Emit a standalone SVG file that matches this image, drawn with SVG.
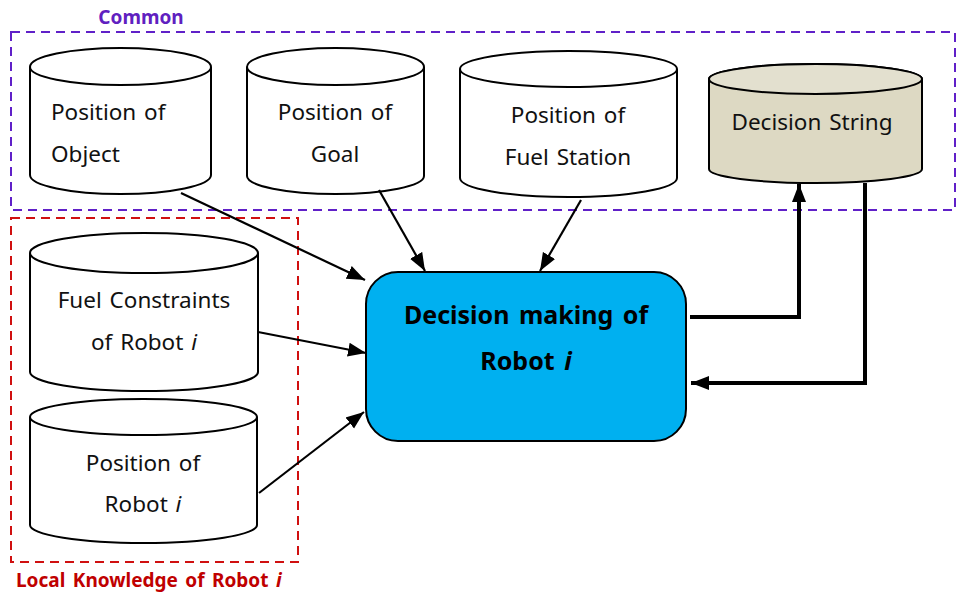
<svg xmlns="http://www.w3.org/2000/svg" width="956" height="594" viewBox="0 0 956 594">
<style>
.cyl{fill:#fff;stroke:#000;stroke-width:2}
.ds{fill:#DDD9C3;stroke:#000;stroke-width:2}
.dstop{fill:#E3E0CF;stroke:#000;stroke-width:2}
.t{font-family:"Noto Sans","Open Sans",sans-serif;font-size:22.5px;word-spacing:2px;fill:#111}
.c{text-anchor:middle}
.b{font-family:"Noto Sans","Open Sans",sans-serif;font-size:25px;word-spacing:3px;font-weight:bold;fill:#000;text-anchor:middle}
.lbl{font-family:"Noto Sans","Open Sans",sans-serif;font-size:19px;font-weight:bold}
.conn{stroke:#000;stroke-width:2.2;fill:none}
.thick{stroke:#000;stroke-width:4;fill:none}
</style>
<defs>
<marker id="ah" markerUnits="userSpaceOnUse" markerWidth="20" markerHeight="16" refX="18" refY="8" orient="auto">
<path d="M0,1 L18,8 L0,15 Z" fill="#000"/>
</marker>
</defs>
<g id="common-group">
<rect x="11" y="32" width="944" height="178" fill="none" stroke="#6020C8" stroke-width="2" stroke-dasharray="9,6"/>
<text class="lbl" x="141" y="24" fill="#6020C0" text-anchor="middle">Common</text>
</g>
<g id="local-group">
<rect x="11" y="218" width="287" height="344" fill="none" stroke="#D01010" stroke-width="2" stroke-dasharray="9,6"/>
<text class="lbl" x="16" y="587" fill="#C00000" word-spacing="2.5">Local Knowledge of Robot <tspan font-style="italic">i</tspan></text>
</g>
<g id="pos-object">
<path class="cyl" d="M30,67 A90.5,19 0 0 1 211,67 L211,175 A90.5,19 0 0 1 30,175 Z"/>
<path class="cyl" d="M30,67 A90.5,18 0 0 0 211,67"/>
<text class="t" x="51" y="120">Position of</text>
<text class="t" x="51" y="162">Object</text>
</g>
<g id="pos-goal">
<path class="cyl" d="M247,67 A88.5,19 0 0 1 424,67 L424,176 A88.5,18 0 0 1 247,176 Z"/>
<path class="cyl" d="M247,67 A88.5,18 0 0 0 424,67"/>
<text class="t c" x="335" y="120">Position of</text>
<text class="t c" x="335" y="162">Goal</text>
</g>
<g id="pos-fuel">
<path class="cyl" d="M460,69 A108.5,18 0 0 1 677,69 L677,178 A108.5,19 0 0 1 460,178 Z"/>
<path class="cyl" d="M460,69 A108.5,18 0 0 0 677,69"/>
<text class="t c" x="568" y="123">Position of</text>
<text class="t c" x="568" y="165">Fuel Station</text>
</g>
<g id="decision-string">
<path class="ds" d="M709,79 A106.5,15 0 0 1 922,79 L922,169 A106.5,14 0 0 1 709,169 Z"/>
<path class="dstop" d="M709,79 A106.5,15 0 0 1 922,79 A106.5,15 0 0 1 709,79 Z"/>
<text class="t c" x="812" y="130">Decision String</text>
</g>
<g id="fuel-constraints">
<path class="cyl" d="M30,253 A114,20 0 0 1 258,253 L258,372 A114,19 0 0 1 30,372 Z"/>
<path class="cyl" d="M30,253 A114,20 0 0 0 258,253"/>
<text class="t c" x="144" y="308">Fuel Constraints</text>
<text class="t c" x="144" y="350">of Robot <tspan font-style="italic">i</tspan></text>
</g>
<g id="pos-robot">
<path class="cyl" d="M30,417 A113.5,18 0 0 1 257,417 L257,525 A113.5,18 0 0 1 30,525 Z"/>
<path class="cyl" d="M30,417 A113.5,18 0 0 0 257,417"/>
<text class="t c" x="143" y="471">Position of</text>
<text class="t c" x="143" y="512">Robot <tspan font-style="italic">i</tspan></text>
</g>
<g id="decision-making">
<rect x="366" y="272" width="320" height="169" rx="32" fill="#00B0F0" stroke="#000" stroke-width="2"/>
<text class="b" x="526" y="324">Decision making of</text>
<text class="b" x="526" y="370">Robot <tspan font-style="italic">i</tspan></text>
</g>
<g id="connectors">
<line class="conn" x1="181" y1="193" x2="365" y2="280" marker-end="url(#ah)"/>
<line class="conn" x1="379" y1="190" x2="425" y2="271" marker-end="url(#ah)"/>
<line class="conn" x1="581" y1="200" x2="540" y2="271" marker-end="url(#ah)"/>
<line class="conn" x1="258" y1="332" x2="366" y2="353" marker-end="url(#ah)"/>
<line class="conn" x1="259" y1="493" x2="364" y2="412" marker-end="url(#ah)"/>
<polyline class="thick" points="690,317 799,317 799,184" marker-end="url(#ah)"/>
<polyline class="thick" points="865,183 865,383 691,383" marker-end="url(#ah)"/>
</g>
</svg>
